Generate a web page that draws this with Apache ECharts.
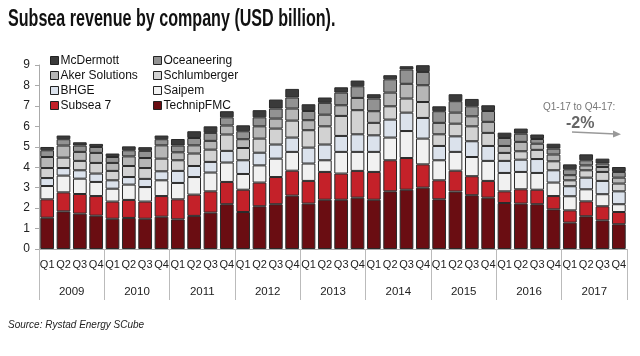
<!DOCTYPE html>
<html><head><meta charset="utf-8">
<script src="https://cdn.jsdelivr.net/npm/echarts@6/dist/echarts.min.js"></script>
<style>html,body{margin:0;padding:0;background:#fff}#c{width:640px;height:356px}</style>
</head><body><div id="c"></div>
<script>
const quarters = ['Q1','Q2','Q3','Q4','Q1','Q2','Q3','Q4','Q1','Q2','Q3','Q4','Q1','Q2','Q3','Q4','Q1','Q2','Q3','Q4','Q1','Q2','Q3','Q4','Q1','Q2','Q3','Q4','Q1','Q2','Q3','Q4','Q1','Q2','Q3','Q4'];
const years = ['2009','2010','2011','2012','2013','2014','2015','2016','2017'];
const yTicks = [0,1,2,3,4,5,6,7,8,9];

const technipFMC = [1.53,1.84,1.73,1.63, 1.48,1.52,1.48,1.58, 1.45,1.62,1.78,2.19, 1.81,2.09,2.19,2.61, 2.22,2.41,2.41,2.51, 2.41,2.82,2.90,3.00, 2.43,2.81,2.63,2.51, 2.25,2.22,2.19,1.94, 1.29,1.60,1.40,1.21];
const subsea7 = [0.90,0.93,0.96,0.96, 0.84,0.88,0.84,1.01, 0.98,1.04,1.04,1.09, 1.09,1.16,1.33,1.22, 1.11,1.36,1.28,1.31, 1.36,1.52,1.55,1.14, 0.93,1.02,0.93,0.82, 0.57,0.70,0.71,0.65, 0.60,0.73,0.69,0.60];
const saipem = [0.65,0.82,0.75,0.69, 0.63,0.75,0.71,0.77, 0.80,0.86,0.92,0.95, 0.77,0.84,0.90,0.92, 0.85,0.57,1.06,0.93, 0.98,1.11,1.32,1.26, 0.98,0.92,0.94,0.98, 0.90,0.85,0.82,0.66, 0.69,0.59,0.59,0.38];
const bhge = [0.39,0.37,0.41,0.41, 0.41,0.37,0.40,0.44, 0.59,0.54,0.52,0.57, 0.67,0.62,0.69,0.70, 0.78,0.77,0.78,0.86, 0.81,0.88,0.90,1.01, 0.70,0.76,0.77,0.73, 0.59,0.60,0.68,0.60, 0.49,0.57,0.65,0.63];
const schlumberger = [0.49,0.51,0.46,0.52, 0.46,0.54,0.53,0.62, 0.52,0.61,0.60,0.80, 0.60,0.69,0.78,0.83, 0.85,0.89,0.98,1.18, 0.61,0.65,0.69,0.78, 0.57,0.62,0.73,0.64, 0.39,0.41,0.45,0.44, 0.29,0.36,0.44,0.38];
const akerSolutions = [0.54,0.59,0.44,0.49, 0.39,0.47,0.49,0.65, 0.39,0.40,0.43,0.44, 0.43,0.60,0.49,0.59, 0.49,0.57,0.52,0.60, 0.57,0.67,0.72,0.82, 0.56,0.54,0.49,0.54, 0.34,0.46,0.30,0.33, 0.25,0.24,0.24,0.29];
const oceaneering = [0.33,0.31,0.31,0.29, 0.29,0.30,0.35,0.30, 0.33,0.36,0.39,0.40, 0.39,0.44,0.49,0.54, 0.45,0.58,0.62,0.57, 0.62,0.65,0.70,0.65, 0.57,0.56,0.49,0.53, 0.39,0.40,0.23,0.29, 0.29,0.25,0.17,0.28];
const mcDermott = [0.16,0.18,0.16,0.15, 0.17,0.19,0.18,0.18, 0.32,0.33,0.32,0.30, 0.29,0.35,0.44,0.42, 0.33,0.26,0.26,0.28, 0.21,0.20,0.16,0.33, 0.24,0.34,0.36,0.28, 0.26,0.25,0.22,0.24, 0.24,0.29,0.24,0.24];

const seriesDefs = [
  ['TechnipFMC', technipFMC, '#6a0d12'],
  ['Subsea 7', subsea7, '#c42129'],
  ['Saipem', saipem, '#f1f1f1'],
  ['BHGE', bhge, '#dbe2ec'],
  ['Schlumberger', schlumberger, '#d2d2d2'],
  ['Aker Solutions', akerSolutions, '#b6b6b6'],
  ['Oceaneering', oceaneering, '#929292'],
  ['McDermott', mcDermott, '#3a3a3a']
];

const chart = echarts.init(document.getElementById('c'), null, {renderer:'canvas'});
const font = 'Liberation Sans, Arial, sans-serif';
const legendBase = {
  orient: 'vertical', itemWidth: 8, itemHeight: 8, itemGap: 2,
  icon: 'rect',
  textStyle: {fontFamily: font, fontSize: 12, color: '#111', padding: [0,0,0,-3], lineHeight: 13},
  itemStyle: {borderColor: '#222', borderWidth: 1}
};
chart.setOption({
  animation: false,
  legend: [
    Object.assign({}, legendBase, {left: 45, top: 49, data: ['McDermott','Aker Solutions','BHGE','Subsea 7']}),
    Object.assign({}, legendBase, {left: 148, top: 49, data: ['Oceaneering','Schlumberger','Saipem','TechnipFMC']})
  ],
  grid: {left: 39, right: 13, top: 65, bottom: 107},
  xAxis: [
    {type: 'category', data: quarters, position: 'bottom',
     axisLine: {lineStyle: {color: '#aaa'}}, axisTick: {show: false},
     axisLabel: {interval: 0, margin: 10, fontFamily: font, fontSize: 11, color: '#222'}},
    {type: 'category', data: years, position: 'bottom',
     axisLine: {show: false},
     axisTick: {show: true, interval: 0, length: 51, lineStyle: {color: '#bbb'}},
     axisLabel: {interval: 0, margin: 37, fontFamily: font, fontSize: 11.5, color: '#222'}}
  ],
  yAxis: {
    type: 'value', min: 0, max: 9, interval: 1,
    axisLine: {show: true, lineStyle: {color: '#aaa'}},
    axisTick: {show: true, length: 4, lineStyle: {color: '#aaa'}},
    splitLine: {show: false},
    axisLabel: {margin: 9, fontFamily: font, fontSize: 12, color: '#222',
      formatter: v => yTicks.includes(v) ? String(v) : ''}
  },
  series: seriesDefs.map(([name, data, color]) => ({
    name, type: 'bar', stack: 'total', data, xAxisIndex: 0,
    barCategoryGap: '16%',
    itemStyle: {color, borderColor: '#2a2a2a', borderWidth: 1}
  })),
  graphic: [
    {type: 'text', x: 8, y: 8, scaleX: 0.7, style: {text: 'Subsea revenue by company (USD billion).', font: 'bold 23px Liberation Sans, Arial, sans-serif', fill: '#111'}},
    {type: 'text', left: 543, top: 102, style: {text: 'Q1-17 to Q4-17:', font: '10px Liberation Sans, Arial, sans-serif', fill: '#777'}},
    {type: 'text', left: 566, top: 116, style: {text: '-2%', font: 'bold 16px Liberation Sans, Arial, sans-serif', fill: '#666'}},
    {type: 'line', shape: {x1: 572, y1: 132, x2: 616, y2: 134}, style: {stroke: '#999', lineWidth: 1.5}},
    {type: 'polygon', shape: {points: [[621,134.2],[613,130.5],[613,137.5]]}, style: {fill: '#999'}},
    {type: 'text', left: 8, top: 320, style: {text: 'Source: Rystad Energy SCube', font: 'italic 10px Liberation Sans, Arial, sans-serif', fill: '#222'}}
  ]
});
</script></body></html>
